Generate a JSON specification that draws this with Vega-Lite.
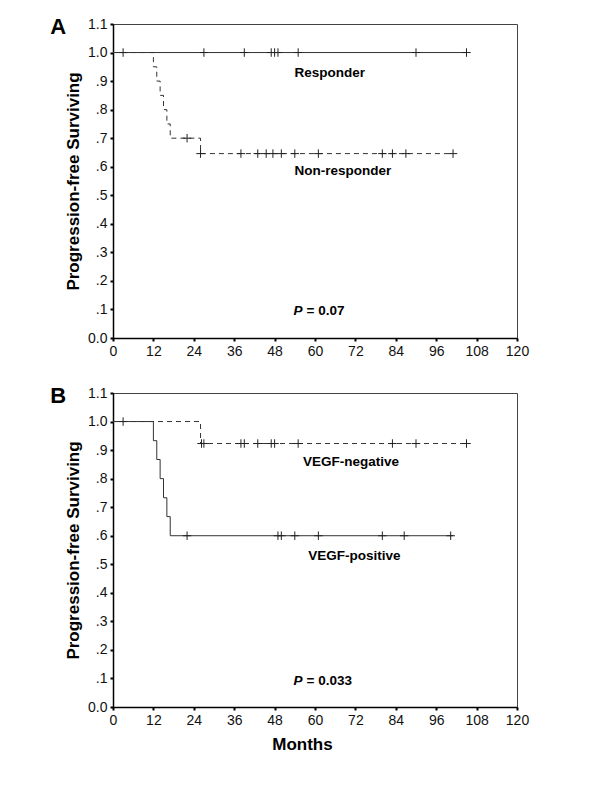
{
  "$schema": "https://vega.github.io/schema/vega-lite/v6.json",
  "background": "white",
  "padding": {"left": 49, "top": 15, "right": 10, "bottom": 10},
  "spacing": 25,
  "config": {
    "font": "Liberation Sans",
    "view": {"stroke": "#444", "strokeWidth": 1},
    "axis": {
      "grid": false,
      "domainColor": "#000",
      "domainWidth": 1.5,
      "tickColor": "#000",
      "tickSize": 3,
      "tickWidth": 2,
      "labelFont": "Liberation Sans",
      "labelFontSize": 14,
      "labelColor": "#111",
      "labelPadding": 3,
      "titleFont": "Liberation Sans",
      "titleFontSize": 17,
      "titleFontWeight": "bold",
      "titleColor": "#000"
    }
  },
  "datasets": {
    "curvesA": [
      {"group": "Responder", "month": 0, "surv": 1.0},
      {"group": "Responder", "month": 105, "surv": 1.0},
      {"group": "Non-responder", "month": 0, "surv": 1.0},
      {"group": "Non-responder", "month": 12, "surv": 0.95},
      {"group": "Non-responder", "month": 13, "surv": 0.9},
      {"group": "Non-responder", "month": 14, "surv": 0.85},
      {"group": "Non-responder", "month": 15, "surv": 0.8},
      {"group": "Non-responder", "month": 16, "surv": 0.75},
      {"group": "Non-responder", "month": 17, "surv": 0.7},
      {"group": "Non-responder", "month": 26, "surv": 0.646},
      {"group": "Non-responder", "month": 101, "surv": 0.646}
    ],
    "censA": [
      {"group": "Responder", "month": 3, "surv": 1.0},
      {"group": "Responder", "month": 27, "surv": 1.0},
      {"group": "Responder", "month": 39, "surv": 1.0},
      {"group": "Responder", "month": 47, "surv": 1.0},
      {"group": "Responder", "month": 48, "surv": 1.0},
      {"group": "Responder", "month": 49, "surv": 1.0},
      {"group": "Responder", "month": 55, "surv": 1.0},
      {"group": "Responder", "month": 90, "surv": 1.0},
      {"group": "Responder", "month": 105, "surv": 1.0},
      {"group": "Non-responder", "month": 22, "surv": 0.7},
      {"group": "Non-responder", "month": 26, "surv": 0.646},
      {"group": "Non-responder", "month": 38, "surv": 0.646},
      {"group": "Non-responder", "month": 43, "surv": 0.646},
      {"group": "Non-responder", "month": 45.5, "surv": 0.646},
      {"group": "Non-responder", "month": 47.5, "surv": 0.646},
      {"group": "Non-responder", "month": 50, "surv": 0.646},
      {"group": "Non-responder", "month": 54, "surv": 0.646},
      {"group": "Non-responder", "month": 61, "surv": 0.646},
      {"group": "Non-responder", "month": 80, "surv": 0.646},
      {"group": "Non-responder", "month": 83, "surv": 0.646},
      {"group": "Non-responder", "month": 87, "surv": 0.646},
      {"group": "Non-responder", "month": 101, "surv": 0.646}
    ],
    "notesA": [
      {"label": "Responder", "month": 64.4, "surv": 0.93},
      {"label": "Non-responder", "month": 68.3, "surv": 0.585}
    ],
    "pA": [
      {"label": "P", "rest": "= 0.07", "month": 56.3, "surv": 0.093}
    ],
    "panelA": [
      {"label": "A", "month": -16.3, "surv": 1.065}
    ],
    "curvesB": [
      {"group": "VEGF-negative", "month": 0, "surv": 1.0},
      {"group": "VEGF-negative", "month": 26, "surv": 0.923},
      {"group": "VEGF-negative", "month": 105, "surv": 0.923},
      {"group": "VEGF-positive", "month": 0, "surv": 1.0},
      {"group": "VEGF-positive", "month": 12, "surv": 0.933},
      {"group": "VEGF-positive", "month": 13, "surv": 0.867},
      {"group": "VEGF-positive", "month": 14, "surv": 0.8},
      {"group": "VEGF-positive", "month": 15, "surv": 0.733},
      {"group": "VEGF-positive", "month": 16, "surv": 0.667},
      {"group": "VEGF-positive", "month": 17, "surv": 0.6},
      {"group": "VEGF-positive", "month": 101, "surv": 0.6}
    ],
    "censB": [
      {"group": "VEGF-negative", "month": 26.3, "surv": 0.923},
      {"group": "VEGF-negative", "month": 27, "surv": 0.923},
      {"group": "VEGF-negative", "month": 38, "surv": 0.923},
      {"group": "VEGF-negative", "month": 39, "surv": 0.923},
      {"group": "VEGF-negative", "month": 43, "surv": 0.923},
      {"group": "VEGF-negative", "month": 47, "surv": 0.923},
      {"group": "VEGF-negative", "month": 48, "surv": 0.923},
      {"group": "VEGF-negative", "month": 55, "surv": 0.923},
      {"group": "VEGF-negative", "month": 83, "surv": 0.923},
      {"group": "VEGF-negative", "month": 90, "surv": 0.923},
      {"group": "VEGF-negative", "month": 105, "surv": 0.923},
      {"group": "VEGF-positive", "month": 3, "surv": 1.0},
      {"group": "VEGF-positive", "month": 22, "surv": 0.6},
      {"group": "VEGF-positive", "month": 49, "surv": 0.6},
      {"group": "VEGF-positive", "month": 50, "surv": 0.6},
      {"group": "VEGF-positive", "month": 54, "surv": 0.6},
      {"group": "VEGF-positive", "month": 61, "surv": 0.6},
      {"group": "VEGF-positive", "month": 80, "surv": 0.6},
      {"group": "VEGF-positive", "month": 86.5, "surv": 0.6},
      {"group": "VEGF-positive", "month": 100.3, "surv": 0.6}
    ],
    "notesB": [
      {"label": "VEGF-negative", "month": 70.7, "surv": 0.859},
      {"label": "VEGF-positive", "month": 71.7, "surv": 0.529}
    ],
    "pB": [
      {"label": "P", "rest": "= 0.033", "month": 56.3, "surv": 0.091}
    ],
    "panelB": [
      {"label": "B", "month": -16.3, "surv": 1.065}
    ]
  },
  "vconcat": [
    {
      "width": 404,
      "height": 314,
      "encoding": {
        "x": {"field": "month", "type": "quantitative", "scale": {"domain": [0, 120], "nice": false}, "axis": {"values": [0, 12, 24, 36, 48, 60, 72, 84, 96, 108, 120], "title": null, "labelFlush": false}},
        "y": {"field": "surv", "type": "quantitative", "scale": {"domain": [0, 1.1], "nice": false}, "axis": {"values": [0, 0.1, 0.2, 0.3, 0.4, 0.5, 0.6, 0.7, 0.8, 0.9, 1.0, 1.1], "labelExpr": "datum.value < 0.05 ? '0.0' : datum.value >= 0.95 ? format(datum.value, '.1f') : replace(format(datum.value, '.1f'), '0.', '.')", "title": "Progression-free Surviving", "titlePadding": 5}}
      },
      "layer": [
        {
          "data": {"name": "curvesA"},
          "transform": [{"filter": "datum.group == 'Non-responder'"}],
          "mark": {"type": "line", "interpolate": "step-after", "strokeDash": [5, 4], "color": "#333", "strokeWidth": 1}
        },
        {
          "data": {"name": "curvesA"},
          "transform": [{"filter": "datum.group == 'Responder'"}],
          "mark": {"type": "line", "interpolate": "step-after", "color": "#333", "strokeWidth": 1}
        },
        {
          "data": {"name": "censA"},
          "mark": {"type": "point", "shape": "M-1,0H1M0,-1V1", "filled": false, "stroke": "#222", "strokeWidth": 1, "size": 72, "opacity": 1}
        },
        {
          "data": {"name": "notesA"},
          "mark": {"type": "text", "fontSize": 13.5, "fontWeight": "bold", "color": "#000"},
          "encoding": {"text": {"field": "label"}}
        },
        {
          "data": {"name": "pA"},
          "mark": {"type": "text", "fontSize": 13.5, "fontWeight": "bold", "fontStyle": "italic", "align": "right", "color": "#000"},
          "encoding": {"text": {"field": "label"}}
        },
        {
          "data": {"name": "pA"},
          "mark": {"type": "text", "fontSize": 13.5, "fontWeight": "bold", "align": "left", "dx": 4, "color": "#000"},
          "encoding": {"text": {"field": "rest"}}
        },
        {
          "data": {"name": "panelA"},
          "mark": {"type": "text", "fontSize": 22, "fontWeight": "bold", "baseline": "alphabetic", "align": "center", "color": "#000"},
          "encoding": {"text": {"field": "label"}}
        }
      ]
    },
    {
      "width": 404,
      "height": 314,
      "encoding": {
        "x": {"field": "month", "type": "quantitative", "scale": {"domain": [0, 120], "nice": false}, "axis": {"values": [0, 12, 24, 36, 48, 60, 72, 84, 96, 108, 120], "title": "Months", "labelFlush": false, "titlePadding": 9, "titleX": 189}},
        "y": {"field": "surv", "type": "quantitative", "scale": {"domain": [0, 1.1], "nice": false}, "axis": {"values": [0, 0.1, 0.2, 0.3, 0.4, 0.5, 0.6, 0.7, 0.8, 0.9, 1.0, 1.1], "labelExpr": "datum.value < 0.05 ? '0.0' : datum.value >= 0.95 ? format(datum.value, '.1f') : replace(format(datum.value, '.1f'), '0.', '.')", "title": "Progression-free Surviving", "titlePadding": 5}}
      },
      "layer": [
        {
          "data": {"name": "curvesB"},
          "transform": [{"filter": "datum.group == 'VEGF-negative'"}],
          "mark": {"type": "line", "interpolate": "step-after", "strokeDash": [5, 4], "color": "#333", "strokeWidth": 1}
        },
        {
          "data": {"name": "curvesB"},
          "transform": [{"filter": "datum.group == 'VEGF-positive'"}],
          "mark": {"type": "line", "interpolate": "step-after", "color": "#333", "strokeWidth": 1}
        },
        {
          "data": {"name": "censB"},
          "mark": {"type": "point", "shape": "M-1,0H1M0,-1V1", "filled": false, "stroke": "#222", "strokeWidth": 1, "size": 72, "opacity": 1}
        },
        {
          "data": {"name": "notesB"},
          "mark": {"type": "text", "fontSize": 13.5, "fontWeight": "bold", "color": "#000"},
          "encoding": {"text": {"field": "label"}}
        },
        {
          "data": {"name": "pB"},
          "mark": {"type": "text", "fontSize": 13.5, "fontWeight": "bold", "fontStyle": "italic", "align": "right", "color": "#000"},
          "encoding": {"text": {"field": "label"}}
        },
        {
          "data": {"name": "pB"},
          "mark": {"type": "text", "fontSize": 13.5, "fontWeight": "bold", "align": "left", "dx": 4, "color": "#000"},
          "encoding": {"text": {"field": "rest"}}
        },
        {
          "data": {"name": "panelB"},
          "mark": {"type": "text", "fontSize": 22, "fontWeight": "bold", "baseline": "alphabetic", "align": "center", "color": "#000"},
          "encoding": {"text": {"field": "label"}}
        }
      ]
    }
  ]
}
